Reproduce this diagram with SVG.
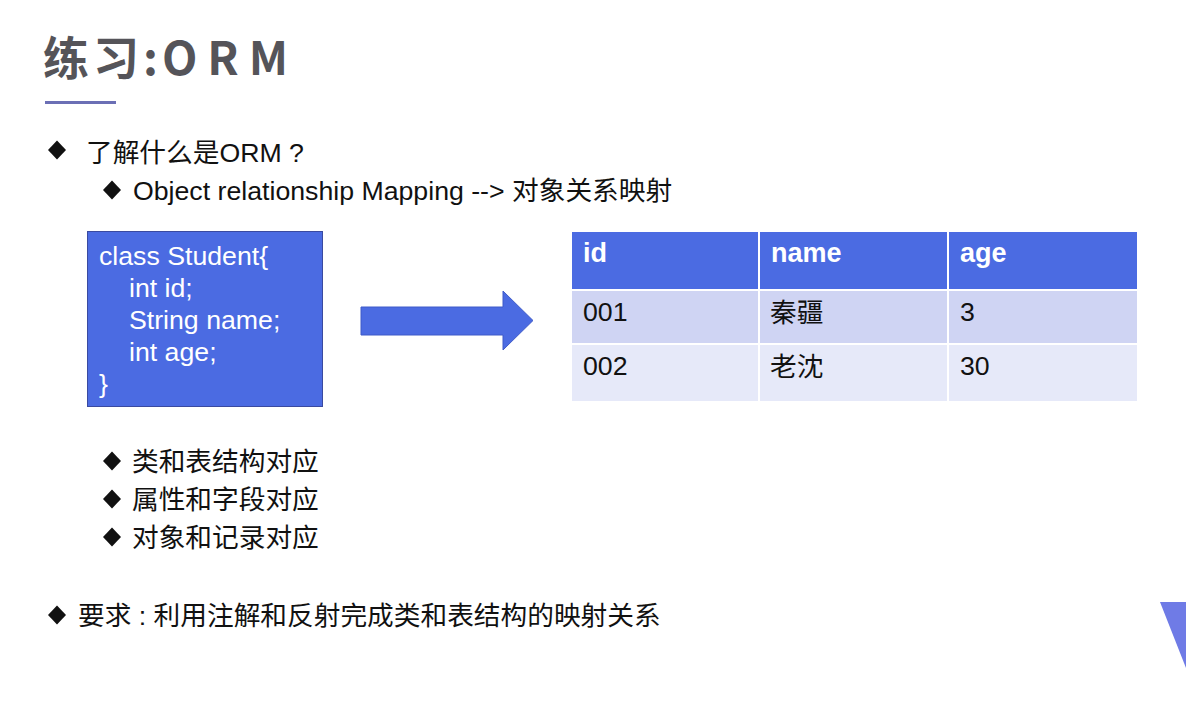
<svg xmlns="http://www.w3.org/2000/svg" width="1186" height="703" viewBox="0 0 1186 703">
<style>
.t{font-family:"Liberation Sans","Noto Sans CJK SC",sans-serif;font-size:26.7px;fill:#111}
.w{font-family:"Liberation Sans","Noto Sans CJK SC",sans-serif;font-size:26.7px;fill:#fff}
.h{font-family:"Liberation Sans","Noto Sans CJK SC",sans-serif;font-size:27px;font-weight:bold;fill:#fff}
.title{font-family:"Noto Sans CJK SC","Liberation Sans",sans-serif;font-size:46px;font-weight:bold;fill:#555459}
</style>
<defs>
<path id="dia" d="M0,-9.5 L9,0 L0,9.5 L-9,0 Z" fill="#111"/>
</defs>
<rect width="1186" height="703" fill="#ffffff"/>
<polygon points="1160,602 1186,602 1186,668" fill="#6f7be6"/>
<g id="title">
<text class="title" x="43" y="75" letter-spacing="4">练习:<tspan letter-spacing="10">ORM</tspan></text>
<rect x="45" y="101" width="71" height="3" fill="#6b6fb5"/>
</g>
<g id="intro">
<use href="#dia" x="57" y="150"/>
<text class="t" x="86" y="162">了解什么是ORM ?</text>
<use href="#dia" x="112" y="190"/>
<text class="t" x="133" y="200">Object relationship Mapping --&gt; 对象关系映射</text>
</g>
<g id="class-box">
<rect x="87.5" y="231.5" width="235" height="175" fill="#4b6be2" stroke="#3a4aa0" stroke-width="1"/>
<text class="w" x="99" y="265">class Student{</text>
<text class="w" x="129" y="297">int id;</text>
<text class="w" x="129" y="329">String name;</text>
<text class="w" x="129" y="361">int age;</text>
<text class="w" x="99" y="393">}</text>
</g>
<g id="connectors">
<polygon points="361,307 503,307 503,291 533,320.5 503,350 503,335 361,335" fill="#4b6be2" stroke="#3f5bc8" stroke-width="1"/>
</g>
<g id="table">
<rect x="572" y="232" width="565" height="57" fill="#4b6be2"/>
<rect x="572" y="291" width="565" height="52" fill="#cfd4f3"/>
<rect x="572" y="345" width="565" height="56" fill="#e6e9f9"/>
<line x1="759" y1="232" x2="759" y2="401" stroke="#fff" stroke-width="2"/>
<line x1="948" y1="232" x2="948" y2="401" stroke="#fff" stroke-width="2"/>
<text class="h" x="583" y="262">id</text>
<text class="h" x="771" y="262">name</text>
<text class="h" x="960" y="262">age</text>
<text class="t" x="583" y="321">001</text>
<text class="t" x="770" y="322">秦疆</text>
<text class="t" x="960" y="321">3</text>
<text class="t" x="583" y="375">002</text>
<text class="t" x="770" y="376">老沈</text>
<text class="t" x="960" y="375">30</text>
</g>
<g id="points">
<use href="#dia" x="112" y="461"/>
<text class="t" x="132" y="471">类和表结构对应</text>
<use href="#dia" x="112" y="499"/>
<text class="t" x="132" y="509">属性和字段对应</text>
<use href="#dia" x="112" y="537"/>
<text class="t" x="132" y="547">对象和记录对应</text>
</g>
<g id="requirement">
<use href="#dia" x="57" y="615"/>
<text class="t" x="78" y="625">要求 : 利用注解和反射完成类和表结构的映射关系</text>
</g>
</svg>
